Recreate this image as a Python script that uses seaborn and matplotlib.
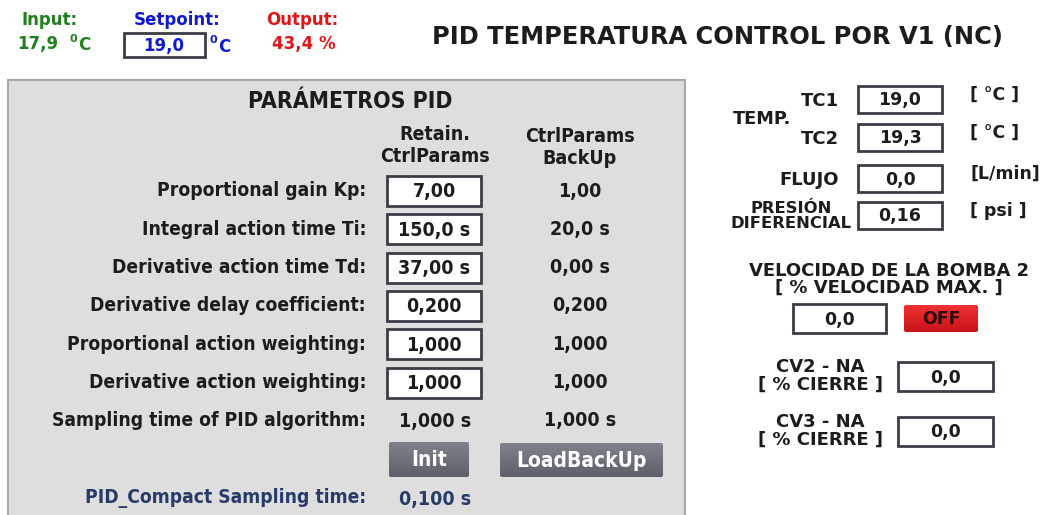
import numpy as np
import matplotlib
matplotlib.use("Agg")
import matplotlib.pyplot as plt
import seaborn as sns
from matplotlib.patches import Rectangle, FancyBboxPatch

# ---- data ----
input_temp = "17,9"
setpoint = "19,0"
output_pct = "43,4"
title = "PID TEMPERATURA CONTROL POR V1 (NC)"

param_labels = ["Proportional gain Kp:", "Integral action time Ti:",
                "Derivative action time Td:", "Derivative delay coefficient:",
                "Proportional action weighting:", "Derivative action weighting:",
                "Sampling time of PID algorithm:"]
retain_values = ["7,00", "150,0 s", "37,00 s", "0,200", "1,000", "1,000", "1,000 s"]
backup_values = ["1,00", "20,0 s", "0,00 s", "0,200", "1,000", "1,000", "1,000 s"]
compact_label = "PID_Compact Sampling time:"
compact_value = "0,100 s"

sensor_labels = ["TC1", "TC2", "FLUJO", "PRESIÓN\nDIFERENCIAL"]
sensor_values = ["19,0", "19,3", "0,0", "0,16"]
sensor_units = ["[ °C ]", "[ °C ]", "[L/min]", "[ psi ]"]

pump_speed = "0,0"
pump_state = "OFF"
valve_labels = ["CV2 - NA\n[ % CIERRE ]", "CV3 - NA\n[ % CIERRE ]"]
valve_values = ["0,0", "0,0"]

# ---- figure ----
sns.set_theme(style="white")
W, H = 1049, 515
fig = plt.figure(figsize=(W / 100, H / 100), dpi=100)
ax = fig.add_axes([0, 0, 1, 1])
ax.set_xlim(0, W)
ax.set_ylim(H, 0)
ax.axis("off")

BOLD = dict(family="DejaVu Sans", fontweight="bold")
NARROW = dict(family="DejaVu Sans", fontweight="bold", fontstretch="condensed")
DARK = "#1c1c1c"


def box(x0, y0, x1, y1, text, fs=14, font=NARROW):
    ax.add_patch(Rectangle((x0, y0), x1 - x0, y1 - y0, facecolor="white",
                           edgecolor="#3b3e46", lw=2.0, zorder=3))
    ax.text((x0 + x1) / 2, (y0 + y1) / 2 + 1, text, ha="center", va="center",
            fontsize=fs, color=DARK, zorder=4, **font)


def button(x0, y0, x1, y1, text, top, bottom, tcolor, fs=15, font=NARROW):
    patch = FancyBboxPatch((x0, y0), x1 - x0, y1 - y0,
                           boxstyle="round,pad=0,rounding_size=2",
                           facecolor="none", edgecolor="none", zorder=3)
    ax.add_patch(patch)
    grad = np.linspace(0, 1, 64).reshape(-1, 1)
    c0 = np.array(matplotlib.colors.to_rgb(top))
    c1 = np.array(matplotlib.colors.to_rgb(bottom))
    img = c0 + (c1 - c0) * grad[..., None]
    im = ax.imshow(img, extent=(x0, x1, y1, y0), aspect="auto", zorder=3)
    im.set_clip_path(patch)
    ax.text((x0 + x1) / 2, (y0 + y1) / 2 + 1, text, ha="center", va="center",
            fontsize=fs, color=tcolor, zorder=4, **font)


# ---- header ----
green, blue, red = "#1f7f1f", "#0d1ad0", "#e31414"
ax.text(50, 20, "Input:", ha="center", va="center", fontsize=12, color=green, **BOLD)
ax.text(17, 44, input_temp, ha="left", va="center", fontsize=12, color=green, **BOLD)
ax.text(70, 39, "0", ha="left", va="center", fontsize=8, color=green, **BOLD)
ax.text(78, 45, "C", ha="left", va="center", fontsize=12, color=green, **BOLD)

ax.text(177, 20, "Setpoint:", ha="center", va="center", fontsize=12, color=blue, **BOLD)
ax.add_patch(Rectangle((124, 33), 81, 24, facecolor="white",
                       edgecolor="#3b3e46", lw=2.0, zorder=3))
ax.text(164, 46, setpoint, ha="center", va="center", fontsize=12,
        color=blue, zorder=4, **BOLD)
ax.text(210, 40, "0", ha="left", va="center", fontsize=8, color=blue, **BOLD)
ax.text(218, 47, "C", ha="left", va="center", fontsize=12, color=blue, **BOLD)

ax.text(302, 20, "Output:", ha="center", va="center", fontsize=12, color=red, **BOLD)
ax.text(304, 44, output_pct + " %", ha="center", va="center", fontsize=12,
        color=red, **BOLD)

ax.text(718, 37, title, ha="center", va="center", fontsize=17.4, color=DARK, **BOLD)

# ---- PID parameter panel ----
ax.add_patch(Rectangle((8, 80), 677, 445, facecolor="#dedede",
                       edgecolor="#a9a9a9", lw=1.5, zorder=1))
ax.text(350, 102, "PARÁMETROS PID", ha="center", va="center", fontsize=16.5,
        color=DARK, **NARROW)
ax.text(435, 146, "Retain.\nCtrlParams", ha="center", va="center", fontsize=14,
        color=DARK, linespacing=1.2, **NARROW)
ax.text(580, 147, "CtrlParams\nBackUp", ha="center", va="center", fontsize=14,
        color=DARK, linespacing=1.2, **NARROW)

row0, step = 191, 38.3
for i, (lab, rv, bv) in enumerate(zip(param_labels, retain_values, backup_values)):
    y = row0 + i * step
    ax.text(366, y, lab, ha="right", va="center", fontsize=13.8, color=DARK, **NARROW)
    if i < len(param_labels) - 1:
        box(387, y - 15, 481, y + 15, rv)
    else:
        ax.text(435, y + 1, rv, ha="center", va="center", fontsize=14,
                color=DARK, **NARROW)
    ax.text(580, y, bv, ha="center", va="center", fontsize=14, color=DARK, **NARROW)

button(389, 442, 469, 477, "Init", "#80838b", "#5d6068", "white")
button(500, 443, 663, 477, "LoadBackUp", "#80838b", "#5d6068", "white")

ax.text(366, 498, compact_label, ha="right", va="center", fontsize=13.8,
        color="#283a68", **NARROW)
ax.text(435, 500, compact_value, ha="center", va="center", fontsize=14,
        color="#283a68", **NARROW)

# ---- sensors ----
ax.text(762, 119, "TEMP.", ha="center", va="center", fontsize=12.8, color=DARK, **BOLD)
sensor_y = [100, 138, 179, 216]
for lab, val, unit, y in zip(sensor_labels, sensor_values, sensor_units, sensor_y):
    if "\n" in lab:
        ax.text(791, y, lab, ha="center", va="center", fontsize=11.8,
                color=DARK, linespacing=1.0, **BOLD)
    else:
        ax.text(839, y + 1, lab, ha="right", va="center", fontsize=13,
                color=DARK, **BOLD)
    box(858, y - 14, 942, y + 13, val, fs=12.5, font=BOLD)
    ax.text(970, y - 5, unit, ha="left", va="center", fontsize=12.5,
            color=DARK, **BOLD)

# ---- pump ----
ax.text(889, 279, "VELOCIDAD DE LA BOMBA 2\n[ % VELOCIDAD MAX. ]", ha="center",
        va="center", fontsize=13, color=DARK, linespacing=0.9, **BOLD)
box(793, 304, 886, 333, pump_speed, fs=12.5, font=BOLD)
button(904, 305, 978, 332, pump_state, "#f03035", "#c71418", "#2a0d0d",
       fs=12.5, font=BOLD)

# ---- valves ----
valve_y = [376, 431]
for lab, val, y in zip(valve_labels, valve_values, valve_y):
    ax.text(820, y, lab, ha="center", va="center", fontsize=13,
            color=DARK, linespacing=0.95, **BOLD)
    box(898, y - 14, 993, y + 15, val, fs=12.5, font=BOLD)

fig.savefig("out.png", dpi=100)
